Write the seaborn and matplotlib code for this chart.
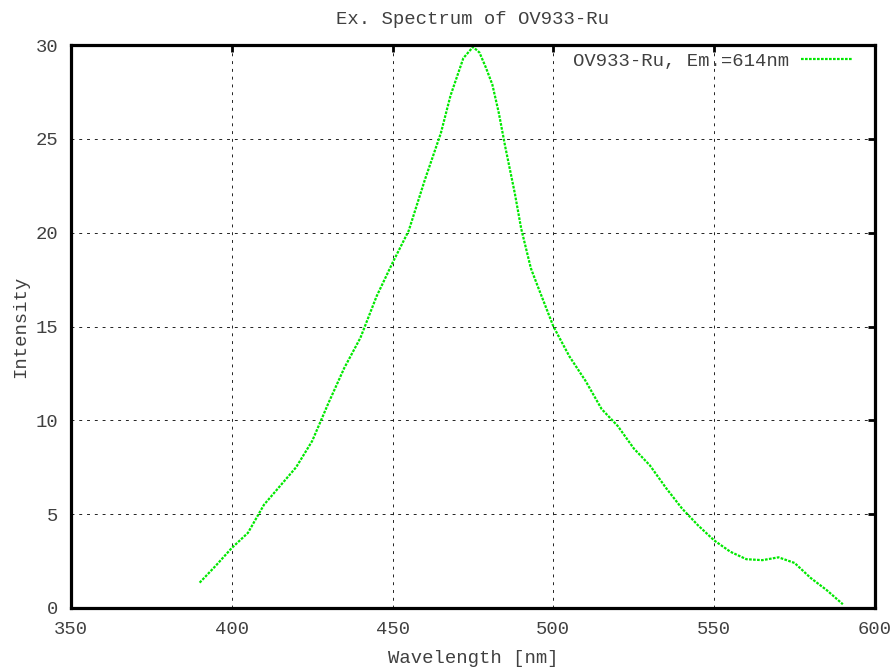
import numpy as np
import pandas as pd
import matplotlib
matplotlib.use("Agg")
import matplotlib.pyplot as plt
import seaborn as sns

# Excitation spectrum
wavelength = [390, 395, 400, 405, 410, 415, 420, 425, 430, 435, 440, 445,
              450, 455, 460, 465, 468, 470, 472, 475, 477, 479, 481, 483,
              485, 488, 490, 493, 495, 500, 505, 510, 515, 520, 525, 530,
              535, 540, 545, 550, 555, 560, 565, 570, 575, 580, 585, 590]
intensity = [1.35, 2.25, 3.2, 4.0, 5.5, 6.5, 7.5, 8.9, 10.9, 12.8, 14.4, 16.6,
             18.4, 20.1, 22.8, 25.3, 27.3, 28.3, 29.3, 29.9, 29.6, 28.8, 27.9, 26.4,
             24.6, 22.1, 20.2, 18.1, 17.2, 15.0, 13.4, 12.1, 10.6, 9.7, 8.5, 7.6,
             6.4, 5.3, 4.4, 3.6, 3.0, 2.6, 2.55, 2.7, 2.4, 1.6, 0.95, 0.2]
label = "OV933-Ru, Em.=614nm"
xticks = [350, 400, 450, 500, 550, 600]
yticks = [0, 5, 10, 15, 20, 25, 30]

df = pd.DataFrame({"Wavelength": wavelength, "Intensity": intensity})

sns.set_style("white")
plt.rcParams["font.family"] = ["Liberation Mono", "DejaVu Sans Mono"]
txt = "#404040"
fs = 13.6

fig = plt.figure(figsize=(8.93, 6.68), dpi=100)
ax = fig.add_axes([71 / 893, 60 / 668, 804 / 893, 563 / 668])

sns.lineplot(data=df, x="Wavelength", y="Intensity", ax=ax, color="#00e800",
             linewidth=1.6, linestyle=(0, (1.2, 0.6)), label=label)

ax.set_xlim(350, 600)
ax.set_ylim(0, 30)
ax.set_xticks(xticks)
ax.set_yticks(yticks)
ax.grid(True, color="#222222", linestyle=(0, (3, 5)), linewidth=0.7)

for s in ax.spines.values():
    s.set_linewidth(2.3)
    s.set_color("black")

ax.tick_params(direction="in", length=5, width=2, colors="black",
               top=True, right=True, labelsize=fs, labelcolor=txt, pad=9)

ax.set_title("Ex. Spectrum of OV933-Ru", fontsize=fs, color=txt, pad=15)
ax.set_xlabel("Wavelength [nm]", fontsize=fs, color=txt, labelpad=9)
ax.set_ylabel("Intensity", fontsize=fs, color=txt, labelpad=5)

leg = ax.legend(loc="upper right", frameon=False, markerfirst=False,
                fontsize=fs, handlelength=2.7, handletextpad=0.6,
                borderaxespad=0.3, borderpad=0.3,
                bbox_to_anchor=(0.985, 1.007))
for t in leg.get_texts():
    t.set_color(txt)

fig.savefig("out.png", dpi=100)
